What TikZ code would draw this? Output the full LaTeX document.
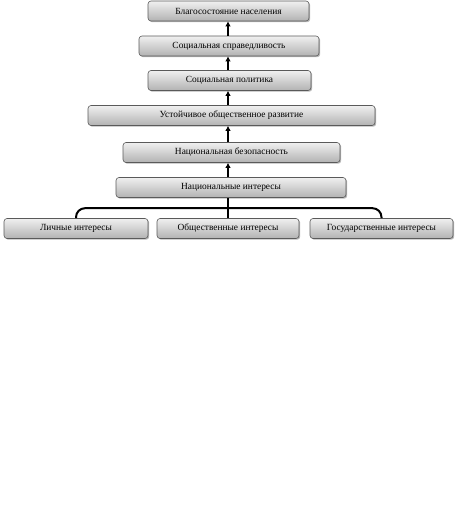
\documentclass[tikz,border=0pt]{standalone}
\usepackage{fontspec}
\setmainfont{Liberation Serif}
\usepackage{tikz}
\usetikzlibrary{arrows.meta,positioning,calc,shadows}
\definecolor{boxtop}{RGB}{240,240,240}
\definecolor{boxbot}{RGB}{178,178,178}
\definecolor{boxedge}{RGB}{90,90,90}
\tikzset{
  lvl/.style={draw=boxedge, line width=0.6pt, rounded corners=3pt,
    top color=boxtop, bottom color=boxbot, minimum height=20pt,
    inner sep=0pt, font=\fontsize{9.4}{11}\selectfont,
    drop shadow={shadow xshift=1.2pt, shadow yshift=-1.2pt, fill=gray!55, opacity=1}},
  up/.style={-{Latex[length=5pt,width=5.5pt]}, line width=2pt, black},
  brk/.style={line width=2pt, black, rounded corners=9pt},
}

\begin{document}
\begin{tikzpicture}[x=1pt,y=-1pt]
\useasboundingbox (0,0) rectangle (461,525);
% pyramid, top to bottom
\node[lvl, minimum width=161pt] (wel) at (228.5,11) {Благосостояние населения};
\node[lvl, minimum width=180pt] (just) at (229,46) {Социальная справедливость};
\node[lvl, minimum width=163pt] (pol) at (229.5,80.5) {Социальная политика};
\node[lvl, minimum width=287pt] (dev) at (231.5,115.5) {Устойчивое общественное развитие};
\node[lvl, minimum width=217pt] (sec) at (231.5,152.5) {Национальная безопасность};
\node[lvl, minimum width=230pt] (nat) at (231,187.5) {Национальные интересы};
% three sources
\node[lvl, minimum width=144pt] (pers) at (76,228.5) {Личные интересы};
\node[lvl, minimum width=142pt] (soc) at (228,228.5) {Общественные интересы};
\node[lvl, minimum width=143pt] (stat) at (381.5,228.5) {Государственные интересы};

\coordinate (ax) at (soc.north);
\draw[up] (nat.north -| ax) -- (sec.south -| ax);
\draw[up] (sec.north -| ax) -- (dev.south -| ax);
\draw[up] (dev.north -| ax) -- (pol.south -| ax);
\draw[up] (pol.north -| ax) -- (just.south -| ax);
\draw[up] (just.north -| ax) -- (wel.south -| ax);

\draw[brk] (pers.north) -- ++(0,-10) -| (stat.north);
\draw[line width=2pt] (soc.north) -- (nat.south -| ax);
\end{tikzpicture}
\end{document}
